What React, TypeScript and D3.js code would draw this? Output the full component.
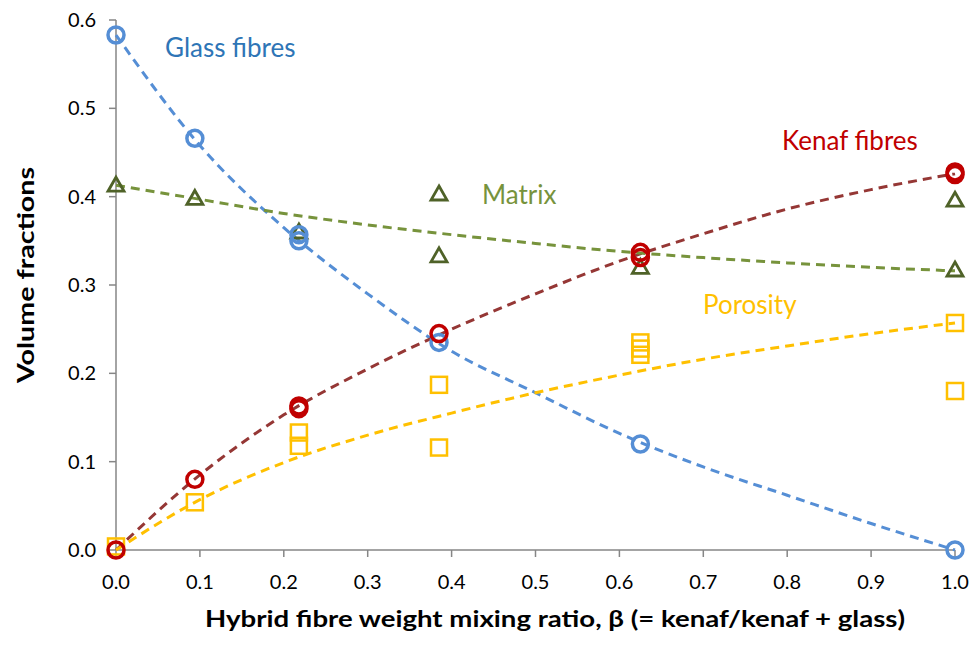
import React from 'react';
import * as d3 from 'd3';

// measured data points (x = mixing ratio beta)
const glassPts: [number, number][] = [
  [0, 0.583], [0.094, 0.466], [0.218, 0.35], [0.218, 0.357], [0.385, 0.235], [0.625, 0.12], [1.0, 0.0],
];
const kenafPts: [number, number][] = [
  [0, 0.0], [0.094, 0.08], [0.218, 0.163], [0.218, 0.16], [0.385, 0.245], [0.625, 0.337], [0.625, 0.331],
  [1.0, 0.428], [1.0, 0.425],
];
const matrixPts: [number, number][] = [
  [0, 0.413], [0.094, 0.398], [0.218, 0.36], [0.385, 0.403], [0.385, 0.333], [0.625, 0.32], [1.0, 0.396],
  [1.0, 0.317],
];
const porosityPts: [number, number][] = [
  [0, 0.004], [0.094, 0.054], [0.218, 0.133], [0.218, 0.118], [0.385, 0.187], [0.385, 0.116],
  [0.625, 0.235], [0.625, 0.228], [0.625, 0.221], [1.0, 0.257], [1.0, 0.18],
];

// trend lines
const glassTrend: [number, number][] = [
  [0, 0.583], [0.1, 0.458], [0.2, 0.365], [0.3, 0.29], [0.4, 0.225], [0.5, 0.178], [0.6, 0.132],
  [0.7, 0.094], [0.8, 0.062], [0.9, 0.03], [1.0, 0.0],
];
const kenafTrend: [number, number][] = [
  [0, 0.0], [0.1, 0.085], [0.2, 0.153], [0.3, 0.205], [0.4, 0.25], [0.5, 0.29], [0.6, 0.327],
  [0.7, 0.358], [0.8, 0.386], [0.9, 0.408], [1.0, 0.426],
];
const matrixTrend: [number, number][] = [
  [0, 0.413], [0.1, 0.397], [0.2, 0.381], [0.3, 0.368], [0.4, 0.357], [0.5, 0.347], [0.6, 0.338],
  [0.7, 0.331], [0.8, 0.325], [0.9, 0.32], [1.0, 0.316],
];
const porosityTrend: [number, number][] = [
  [0, 0.0], [0.1, 0.057], [0.2, 0.099], [0.3, 0.13], [0.4, 0.155], [0.5, 0.178], [0.6, 0.198],
  [0.7, 0.216], [0.8, 0.231], [0.9, 0.245], [1.0, 0.257],
];

const xTicks = [0, 0.1, 0.2, 0.3, 0.4, 0.5, 0.6, 0.7, 0.8, 0.9, 1.0];
const yTicks = [0, 0.1, 0.2, 0.3, 0.4, 0.5, 0.6];

const font = 'Lato, "Open Sans", sans-serif';
const axisColor = '#868686';

export default function App() {
  const x = d3.scaleLinear().domain([0, 1]).range([116, 955]);
  const y = d3.scaleLinear().domain([0, 0.6]).range([550, 20]);

  const line = d3
    .line<[number, number]>()
    .x((d) => x(d[0]))
    .y((d) => y(d[1]))
    .curve(d3.curveMonotoneX);

  const trends = [
    { pts: glassTrend, color: '#558ED5' },
    { pts: kenafTrend, color: '#953735' },
    { pts: matrixTrend, color: '#77933C' },
    { pts: porosityTrend, color: '#FFC000' },
  ];

  const tri = (cx: number, cy: number) => {
    const s = 8;
    return `M${cx},${cy - s}L${cx + s},${cy + s * 0.75}L${cx - s},${cy + s * 0.75}Z`;
  };

  return (
    <svg
      width={972}
      height={659}
      style={{ position: 'absolute', left: 0, top: 0, background: '#fff' }}
    >
      {/* axes */}
      <line x1={x(0)} x2={x(0)} y1={y(0.6)} y2={y(0)} stroke={axisColor} strokeWidth={1.5} />
      <line x1={x(0)} x2={x(1)} y1={y(0)} y2={y(0)} stroke={axisColor} strokeWidth={1.5} />
      {yTicks.map((t) => (
        <g key={'y' + t}>
          <line x1={x(0) - 7} x2={x(0)} y1={y(t)} y2={y(t)} stroke={axisColor} strokeWidth={1.5} />
          <text
            x={96}
            y={y(t)}
            dy="0.35em"
            textAnchor="end"
            fontFamily={font}
            fontSize={20}
            fill="#000"
          >
            {t.toFixed(1)}
          </text>
        </g>
      ))}
      {xTicks.map((t) => (
        <g key={'x' + t}>
          <line x1={x(t)} x2={x(t)} y1={y(0)} y2={y(0) + 7} stroke={axisColor} strokeWidth={1.5} />
          <text
            x={x(t)}
            y={582}
            dy="0.35em"
            textAnchor="middle"
            fontFamily={font}
            fontSize={20}
            fill="#000"
          >
            {t.toFixed(1)}
          </text>
        </g>
      ))}

      {/* trend lines */}
      {trends.map((t, i) => (
        <path
          key={i}
          d={line(t.pts) || ''}
          fill="none"
          stroke={t.color}
          strokeWidth={3}
          strokeDasharray="9,6"
        />
      ))}

      {/* markers */}
      {matrixPts.map((d, i) => (
        <path key={'m' + i} d={tri(x(d[0]), y(d[1]))} fill="none" stroke="#4F6228" strokeWidth={2.8} />
      ))}
      {porosityPts.map((d, i) => (
        <rect
          key={'p' + i}
          x={x(d[0]) - 8}
          y={y(d[1]) - 8}
          width={16}
          height={16}
          fill="none"
          stroke="#FFC000"
          strokeWidth={2.5}
        />
      ))}
      {glassPts.map((d, i) => (
        <circle key={'g' + i} cx={x(d[0])} cy={y(d[1])} r={8} fill="none" stroke="#558ED5" strokeWidth={3.5} />
      ))}
      {kenafPts.map((d, i) => (
        <circle key={'k' + i} cx={x(d[0])} cy={y(d[1])} r={8} fill="none" stroke="#C00000" strokeWidth={3.5} />
      ))}

      {/* series labels */}
      <text x={165} y={48} dy="0.35em" fontFamily={font} fontSize={26} fill="#2E75B6">Glass fibres</text>
      <text x={782} y={141} dy="0.35em" fontFamily={font} fontSize={26} fill="#C00000">Kenaf fibres</text>
      <text x={482} y={195} dy="0.35em" fontFamily={font} fontSize={26} fill="#77933C">Matrix</text>
      <text x={703} y={305} dy="0.35em" fontFamily={font} fontSize={26} fill="#FFC000">Porosity</text>

      {/* axis titles */}
      <text
        x={555}
        y={619}
        dy="0.35em"
        textAnchor="middle"
        fontFamily={font}
        fontWeight="bold"
        fontSize={23}
        textLength={700}
        lengthAdjust="spacingAndGlyphs"
        fill="#000"
      >
        Hybrid fibre weight mixing ratio, β (= kenaf/kenaf + glass)
      </text>
      <text
        transform="translate(26,275) rotate(-90)"
        textAnchor="middle"
        dy="0.35em"
        fontFamily={font}
        fontWeight="bold"
        fontSize={23}
        textLength={216}
        lengthAdjust="spacingAndGlyphs"
        fill="#000"
      >
        Volume fractions
      </text>
    </svg>
  );
}
